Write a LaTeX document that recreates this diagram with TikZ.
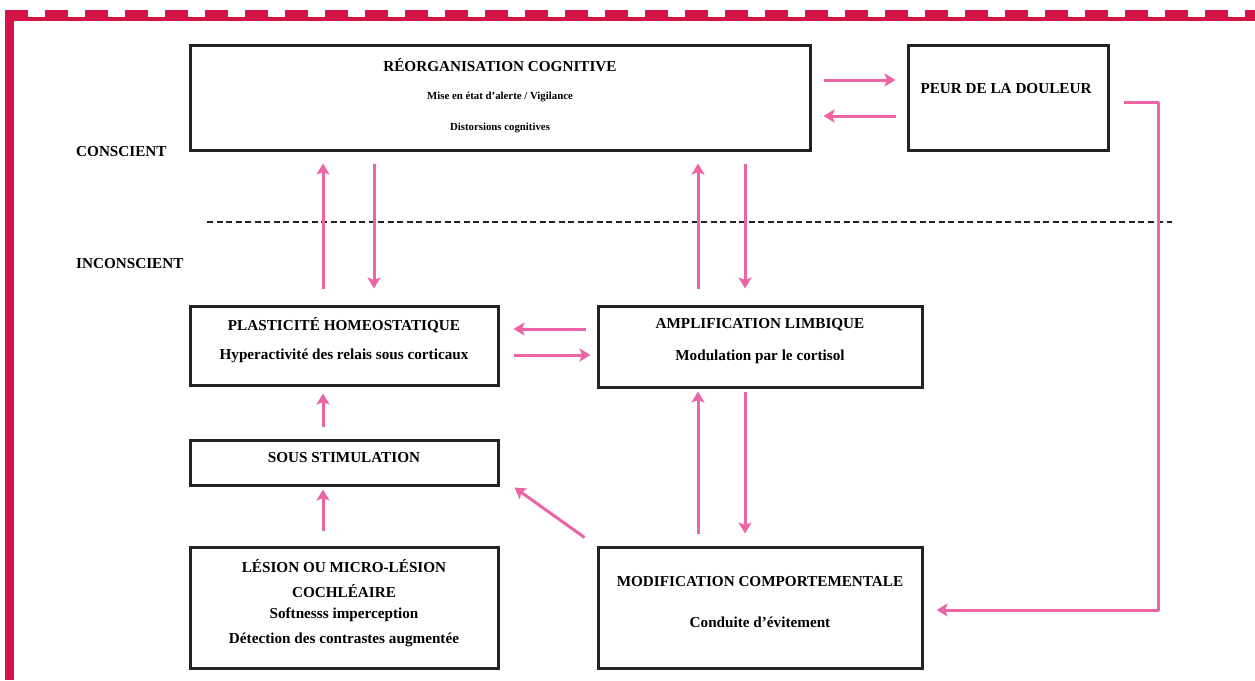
\documentclass[tikz,border=0pt]{standalone}
\usepackage{fontspec}
\setmainfont{Liberation Serif}
\usetikzlibrary{calc,arrows.meta}
\definecolor{framered}{RGB}{212,20,70}
\definecolor{arrpink}{RGB}{236,100,165}
\definecolor{boxgray}{RGB}{35,35,35}
\tikzset{
  box/.style={draw=boxgray, line width=3pt, fill=white, inner sep=0pt},
  ttl/.style={font=\bfseries\fontsize{15.2}{18}\selectfont, text=black, inner sep=0pt},
  sml/.style={font=\bfseries\fontsize{10.8}{13}\selectfont, text=black, inner sep=0pt},
  parr/.style={draw=arrpink, line width=3pt, -{Stealth[length=11pt,width=13pt,inset=2.5pt]}},
}
\begin{document}
\begin{tikzpicture}[x=1pt,y=-1pt]
\useasboundingbox (0,0) rectangle (1255,680);
\fill[white] (0,0) rectangle (1255,680);
% frame
\fill[framered] (5,17) rectangle (1255,21);
\foreach \k in {0,...,31} {\fill[framered] ({5+40*\k},10) rectangle ({28+40*\k},18);}
\fill[framered] (5,10) rectangle (14,680);

% boxes
\node[box, minimum width=620pt, minimum height=105pt] (rc) at (500,97.5) {};
\node[box, minimum width=200pt, minimum height=105pt] (peur) at (1008,97.5) {};
\node[box, minimum width=308pt, minimum height=79pt] (plast) at (344,345.5) {};
\node[box, minimum width=324pt, minimum height=81pt] (ampl) at (760,346.5) {};
\node[box, minimum width=308pt, minimum height=45pt] (sous) at (344,462.5) {};
\node[box, minimum width=308pt, minimum height=121pt] (lesion) at (344,607.5) {};
\node[box, minimum width=324pt, minimum height=121pt] (modif) at (760,607.5) {};

% texts
\node[ttl] (t1) at (500,65) {RÉORGANISATION COGNITIVE};
\node[sml] (t2) at (500,97) {Mise en état d’alerte / Vigilance};
\node[sml] (t3) at (500,128) {Distorsions cognitives};
\node[ttl] (t4) at (1006,89) {PEUR DE LA DOULEUR};
\node[ttl, anchor=west] (t5) at (76,152) {CONSCIENT};
\node[ttl, anchor=west] (t6) at (76,264) {INCONSCIENT};
\node[ttl] (t7) at (344,325) {PLASTICITÉ HOMEOSTATIQUE};
\node[ttl] (t8) at (344,356) {Hyperactivité des relais sous corticaux};
\node[ttl] (t9) at (760,325) {AMPLIFICATION LIMBIQUE};
\node[ttl] (t10) at (760,357) {Modulation par le cortisol};
\node[ttl] (t11) at (344,458) {SOUS STIMULATION};
\node[ttl] (t12) at (344,566) {LÉSION OU MICRO-LÉSION};
\node[ttl] (t13) at (344,591) {COCHLÉAIRE};
\node[ttl] (t14) at (344,615) {Softnesss imperception};
\node[ttl] (t15) at (344,640) {Détection des contrastes augmentée};
\node[ttl] (t16) at (760,582) {MODIFICATION COMPORTEMENTALE};
\node[ttl] (t17) at (760,622) {Conduite d’évitement};

% dashed separator
\coordinate (d1) at (207,222);
\coordinate (d2) at (1172,222);
\draw[boxgray, line width=2.6pt, dash pattern=on 6pt off 3.5pt] (d1) -- (d2);

% column coordinates
\coordinate (c1) at (323,0);
\coordinate (c2) at (374,0);
\coordinate (c3) at (698,0);
\coordinate (c4) at (745,0);
\coordinate (r1) at (0,80);
\coordinate (r2) at (0,116);
\coordinate (r3) at (0,329);
\coordinate (r4) at (0,355);

% RC <-> Peur
\draw[parr, shorten <=12pt, shorten >=11pt] (rc.east |- r1) -- (peur.west |- r1);
\draw[parr, shorten <=11pt, shorten >=12pt] (peur.west |- r2) -- (rc.east |- r2);

% RC <-> Plasticite
\draw[parr, shorten <=16pt, shorten >=12pt] (plast.north -| c1) -- (rc.south -| c1);
\draw[parr, shorten <=12pt, shorten >=16pt] (rc.south -| c2) -- (plast.north -| c2);
% RC <-> Amplification
\draw[parr, shorten <=16pt, shorten >=12pt] (ampl.north -| c3) -- (rc.south -| c3);
\draw[parr, shorten <=12pt, shorten >=16pt] (rc.south -| c4) -- (ampl.north -| c4);

% Amplification <-> Plasticite
\draw[parr, shorten <=11pt, shorten >=14pt] (ampl.west |- r3) -- (plast.east |- r3);
\draw[parr, shorten <=14pt, shorten >=6pt] (plast.east |- r4) -- (ampl.west |- r4);

% chain on the left
\draw[parr, shorten <=12pt, shorten >=7pt] (sous.north -| c1) -- (plast.south -| c1);
\draw[parr, shorten <=15pt, shorten >=3pt] (lesion.north -| c1) -- (sous.south -| c1);

% Modification -> Sous stimulation
\draw[parr] ($(modif.north west)+(-12,-8)$) -- ($(sous.south east)+(15,1)$);

% Modification <-> Amplification
\draw[parr, shorten <=12pt, shorten >=3pt] (modif.north -| c3) -- (ampl.south -| c3);
\draw[parr, shorten <=3pt, shorten >=12pt] (ampl.south -| c4) -- (modif.north -| c4);

% Peur -> Modification
\coordinate (pk1) at (1158,102);
\coordinate (pk2) at (1158,610);
\draw[parr, line join=round] ($(peur.east)+(14,4.5)$) -- (pk1) -- (pk2) -- ($(modif.east |- pk2)+(13,0)$);
\end{tikzpicture}
\end{document}
